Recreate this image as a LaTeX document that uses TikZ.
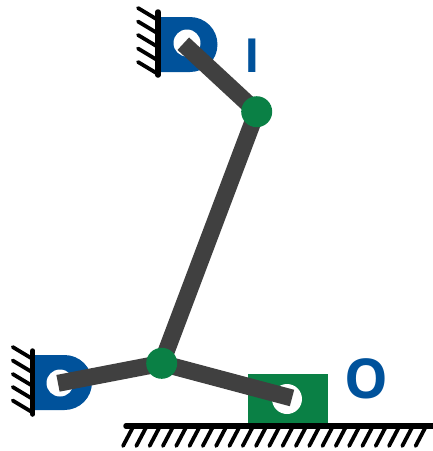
\documentclass[tikz,border=0pt]{standalone}
\usepackage{fontspec}
\setmainfont{Open Sans}
\usepackage{xcolor}
\usepackage{tikz}
\usetikzlibrary{backgrounds}
\definecolor{baseblue}{HTML}{00529B}
\definecolor{jointgreen}{HTML}{0A8045}
\definecolor{linkgrey}{HTML}{404040}

\begin{document}
\begin{tikzpicture}[x=1pt,y=-1pt]
        \tikzstyle{joint}=[circle,fill=jointgreen,minimum size=31pt,inner sep=0pt]
        \tikzstyle{hole}=[circle,fill=white,minimum size=27pt,inner sep=0pt]
        \tikzstyle{link}=[line width=17pt,draw=linkgrey]
        \tikzstyle{wall}=[line width=5.5pt,line cap=round,draw=black]
        \tikzstyle{hatch}=[line width=3.8pt,line cap=round,draw=black]
        \tikzstyle{base}=[fill=baseblue]
        \useasboundingbox (0,0) rectangle (433,451);
        \node[joint] (Jt) at (256.7,111.7) {};
        \node[joint] (Jb) at (161.7,363.3) {};
        \coordinate (Pt) at (183.3,43.7);
        \coordinate (Pl) at (58,383.3);
        \coordinate (Ps) at (292,398);
        \node[anchor=base,inner sep=0pt,text=baseblue,font=\fontsize{47}{47}\selectfont\bfseries] (LI) at (252,72) {I};
        \node[anchor=center,inner sep=0pt,text=baseblue,font=\fontsize{55}{55}\selectfont\bfseries] (LO) at (366,379) {O};
        \begin{pgfonlayer}{background}
            \path[base] (158,17) -- (190,17) arc (-90:90:27.5) -- (158,72) -- cycle;
            \path[base] (33,355) -- (64.5,355) arc (-90:90:27.5) -- (33,410) -- cycle;
            \path[fill=jointgreen] (247.7,374) rectangle (328,424);
            \node[hole] (Ht) at (187,43) {};
            \node[hole] (Hl) at (60,383) {};
            \node[hole,minimum size=30pt] (Hs) at (287,399) {};
            \draw[link] (Jt.center) -- (Pt);
            \draw[link] (Jt.center) -- (Jb.center);
            \draw[link] (Jb.center) -- (Pl);
            \draw[link] (Jb.center) -- (Ps);
        \end{pgfonlayer}
        % supports
        \draw[wall] (158,12) -- (158,75);
        \foreach \y in {8,21.5,35,48.5,62}
            \draw[hatch] (138,\y) -- (158,\y+12);
        \draw[wall] (32.7,351) -- (32.7,414);
        \foreach \y in {347,360.5,374,387,400.5}
            \draw[hatch] (12.7,\y) -- (32.7,\y+12);
        % ground
        \draw[line width=5.5pt,draw=black,line cap=round] (126,426) -- (433,426);
        \foreach \x in {0,...,22}
            \draw[hatch] (133+13.3*\x,427) -- (123+13.3*\x,446);
\end{tikzpicture}
\end{document}
